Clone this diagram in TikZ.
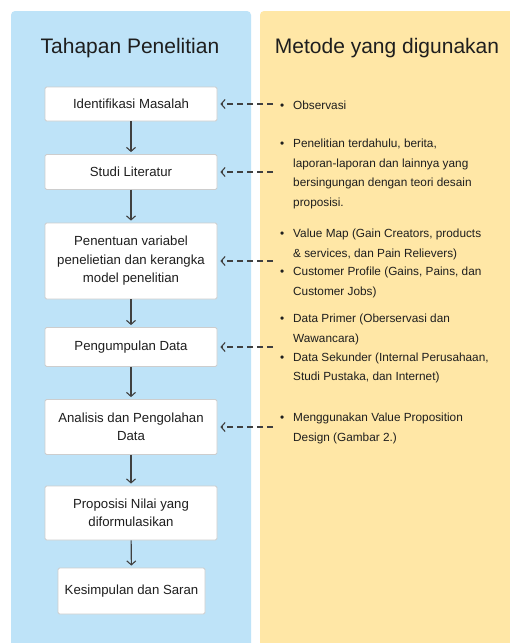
\documentclass[tikz,border=0pt]{standalone}
\usepackage{fontspec}
\setmainfont{Liberation Sans}
\usetikzlibrary{arrows.meta}
\definecolor{bluepanel}{HTML}{BEE3F8}
\definecolor{yellowpanel}{HTML}{FFE7A6}
\definecolor{ink}{HTML}{1E1E1E}
\definecolor{boxline}{HTML}{CDCDCD}
\tikzset{
  stepbox/.style={draw=boxline, line width=0.8pt, fill=white, rounded corners=1.5pt,
    inner sep=0pt, minimum width=172pt, align=center, text=ink,
    font=\fontsize{13.2}{18.5}\selectfont},
  paneltitle/.style={text=ink, font=\fontsize{21}{25}\selectfont, inner sep=0pt, anchor=base},
  item/.style={text=ink, font=\fontsize{11.8}{19.6}\selectfont, inner sep=0pt, anchor=base west},
  flow/.style={draw=ink!85, line width=1.1pt, -{Straight Barb[length=4pt,width=9pt,line width=1.1pt]}, shorten >=2pt},
  link/.style={draw=ink!85, line width=1.4pt, dash pattern=on 6pt off 4pt, -{Straight Barb[length=4pt,width=9pt,line width=1.1pt]}, shorten >=3pt}
}
\newcommand{\bul}[1]{\begin{tabular}[t]{@{}p{13pt}@{}l@{}}\textbullet & #1\end{tabular}}
\begin{document}
\begin{tikzpicture}[x=1pt,y=-1pt]
\useasboundingbox (0,0) rectangle (510,643);
\fill[white] (0,0) rectangle (510,643);
\fill[bluepanel, rounded corners=4pt] (11,11) rectangle (251,660);
\fill[yellowpanel, rounded corners=4pt] (260,11) rectangle (520,660);

\node[paneltitle] (t1) at (130,53) {Tahapan Penelitian};
\node[paneltitle] (t2) at (387,53) {Metode yang digunakan};

\node[stepbox, minimum height=34pt] (s1) at (131,104) {Identifikasi Masalah};
\node[stepbox, minimum height=35pt] (s2) at (131,172) {Studi Literatur};
\node[stepbox, minimum height=76pt] (s3) at (131,261) {Penentuan variabel\\penelietian dan kerangka\\model penelitian};
\node[stepbox, minimum height=39pt] (s4) at (131,347) {Pengumpulan Data};
\node[stepbox, minimum height=55pt] (s5) at (131,427) {Analisis dan Pengolahan\\Data};
\node[stepbox, minimum height=54pt] (s6) at (131,513) {Proposisi Nilai yang\\diformulasikan};
\node[stepbox, minimum height=46pt, minimum width=147pt] (s7) at (131.5,591) {Kesimpulan dan Saran};

\draw[flow] (s1) -- (s2);
\draw[flow] (s2) -- (s3);
\draw[flow] (s3) -- (s4);
\draw[flow] (s4) -- (s5);
\draw[flow] (s5) -- (s6);
\draw[flow] (s6) -- (s7);

\node[item] (m1) at (280,109.5) {\bul{Observasi}};
\node[item] (m2) at (280,147.5) {\bul{Penelitian terdahulu, berita,\\ & laporan-laporan dan lainnya yang\\ & bersingungan dengan teori desain\\ & proposisi.}};
\node[item] (m3) at (280,237.5) {\bul{Value Map (Gain Creators, products\\ & \& services, dan Pain Relievers)}};
\node[item] (m4) at (280,275.5) {\bul{Customer Profile (Gains, Pains, dan\\ & Customer Jobs)}};
\node[item] (m5) at (280,322.5) {\bul{Data Primer (Oberservasi dan\\ & Wawancara)}};
\node[item] (m6) at (280,361) {\bul{Data Sekunder (Internal Perusahaan,\\ & Studi Pustaka, dan Internet)}};
\node[item] (m7) at (280,421.5) {\bul{Menggunakan Value Proposition\\ & Design (Gambar 2.)}};

\coordinate (d1) at (273,104);
\coordinate (d2) at (273,172);
\coordinate (d3) at (273,261);
\coordinate (d4) at (273,347);
\coordinate (d5) at (273,427);
\draw[link] (d1) -- (s1.east);
\draw[link] (d2) -- (s2.east);
\draw[link] (d3) -- (s3.east);
\draw[link] (d4) -- (s4.east);
\draw[link] (d5) -- (s5.east);
\end{tikzpicture}
\end{document}
